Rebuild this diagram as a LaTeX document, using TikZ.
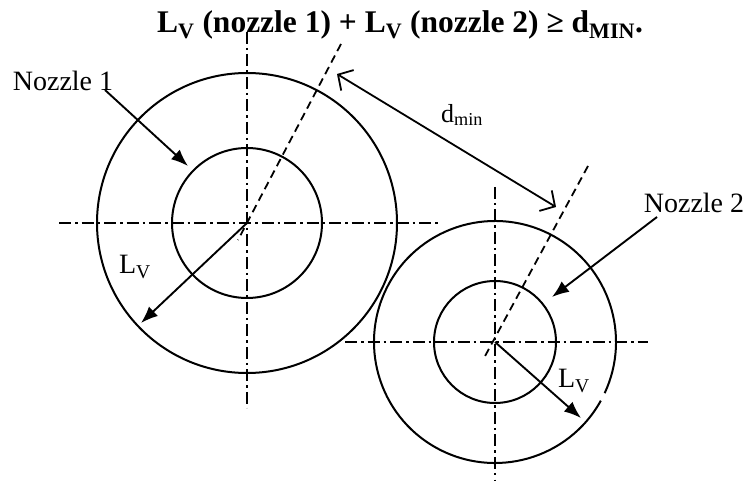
\documentclass[tikz,border=0pt]{standalone}
\usepackage{fontspec}
\setmainfont{Liberation Serif}
\usetikzlibrary{arrows.meta}
\begin{document}
\begin{tikzpicture}[x=1pt,y=-1pt,
  ring/.style={line width=2pt},
  axisline/.style={line width=1.9pt,dash pattern=on 12pt off 4pt on 2.5pt off 4pt},
  slant/.style={line width=1.8pt,dash pattern=on 8pt off 5pt},
  pointer/.style={line width=1.9pt,-{Latex[length=17pt,width=13pt]}},
  dimarrow/.style={line width=1.8pt,{Straight Barb[length=11pt,width=24pt,line width=1.8pt]}-{Straight Barb[length=11pt,width=24pt,line width=1.8pt]}},
  lbl/.style={font=\fontsize{28}{30}\selectfont,inner sep=0pt}]
\useasboundingbox (0,0) rectangle (748,481);
% centres
\coordinate (c1) at (247,223);
\coordinate (c2) at (495,342);
% circles
\draw[ring] (c1) circle[radius=150];
\draw[ring] (c1) circle[radius=75];
\draw[ring] (c2) ++(29:121) arc[start angle=29,end angle=385,radius=121];
\draw[ring] (c2) circle[radius=61];
% centre lines
\coordinate (h1a) at (59,223); \coordinate (h1b) at (438,223);
\coordinate (v1a) at (247,32); \coordinate (v1b) at (247,408);
\coordinate (h2a) at (345,342); \coordinate (h2b) at (648,342);
\coordinate (v2a) at (495,187); \coordinate (v2b) at (495,481);
\draw[axisline] (h1a) -- (h1b);
\draw[axisline] (v1a) -- (v1b);
\draw[axisline] (h2a) -- (h2b);
\draw[axisline] (v2a) -- (v2b);
% slanted dashed lines
\coordinate (s1a) at (341,44); \coordinate (s1b) at (238,240);
\coordinate (s2a) at (588,166); \coordinate (s2b) at (484,358);
\draw[slant] (s1a) -- (s1b);
\draw[slant] (s2a) -- (s2b);
% d_min
\coordinate (d1) at (337,74); \coordinate (d2) at (556,207);
\draw[dimarrow] (d1) -- (d2);
\node[lbl,font=\fontsize{26}{28}\selectfont] (dmin) at (462,115) {d\textsubscript{min}};
% L_V arrows
\coordinate (l1) at (141,323);
\coordinate (l2) at (581,418);
\draw[pointer] (c1) -- (l1);
\draw[pointer] (c2) -- (l2);
\node[lbl] (lv1) at (135,267) {L\textsubscript{V}};
\node[lbl] (lv2) at (574,381) {L\textsubscript{V}};
% nozzle labels
\node[lbl] (n1) at (63,81) {Nozzle 1};
\node[lbl] (n2) at (694,203) {Nozzle 2};
\coordinate (n1s) at (105,90);
\coordinate (n2s) at (657,217);
\coordinate (n1t) at (188,166);
\coordinate (n2t) at (552,297);
\draw[pointer] (n1s) -- (n1t);
\draw[pointer] (n2s) -- (n2t);
% title
\node[font=\bfseries\fontsize{31.5}{33}\selectfont,inner sep=0pt,anchor=base west] (title) at (157,33)
  {L\textsubscript{V} (nozzle 1) + L\textsubscript{V} (nozzle 2) ≥ d\textsubscript{MIN}.};
\end{tikzpicture}
\end{document}
